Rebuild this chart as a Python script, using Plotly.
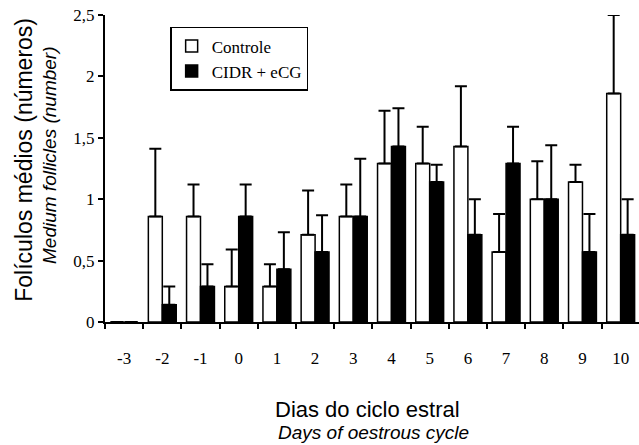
import plotly.graph_objects as go

days = [-3, -2, -1, 0, 1, 2, 3, 4, 5, 6, 7, 8, 9, 10]
controle = [0, 0.86, 0.86, 0.29, 0.29, 0.71, 0.86, 1.29, 1.29, 1.43, 0.57, 1.0, 1.14, 1.86]
controle_se = [0, 0.55, 0.26, 0.30, 0.18, 0.36, 0.26, 0.43, 0.30, 0.49, 0.31, 0.31, 0.14, 0.64]
cidr = [0, 0.14, 0.29, 0.86, 0.43, 0.57, 0.86, 1.43, 1.14, 0.71, 1.29, 1.0, 0.57, 0.71]
cidr_se = [0, 0.15, 0.18, 0.26, 0.30, 0.30, 0.47, 0.31, 0.14, 0.29, 0.30, 0.44, 0.31, 0.29]
y_tickvals = [0, 0.5, 1, 1.5, 2, 2.5]
y_ticktext = ["0", "0,5", "1", "1,5", "2", "2,5"]

serif = "Liberation Serif, Times New Roman, serif"
sans = "Liberation Sans, Arial, sans-serif"

fig = go.Figure()
fig.add_trace(go.Bar(
    x=days, y=controle, name="Controle",
    marker=dict(color="white", line=dict(color="black", width=1.5)),
    error_y=dict(type="data", array=controle_se, arrayminus=[0]*len(days), symmetric=False,
                 color="black", thickness=2, width=6),
))
fig.add_trace(go.Bar(
    x=days, y=cidr, name="CIDR + eCG",
    marker=dict(color="black", line=dict(color="black", width=1.5)),
    error_y=dict(type="data", array=cidr_se, arrayminus=[0]*len(days), symmetric=False,
                 color="black", thickness=2, width=6),
))

fig.update_layout(
    width=639, height=445,
    margin=dict(l=105, r=0, t=15, b=123),
    paper_bgcolor="white", plot_bgcolor="white",
    barmode="group", bargap=0.27, bargroupgap=0,
    showlegend=True,
    legend=dict(
        x=0.122, y=0.961, xanchor="left", yanchor="top",
        bgcolor="white", bordercolor="black", borderwidth=1.5,
        font=dict(family=serif, size=17, color="black"),
        itemwidth=30,
    ),
    xaxis=dict(
        range=[-3.5, 10.48], tickmode="array", tickvals=days,
        ticktext=[str(d) for d in days],
        ticks="outside", ticklen=20, tickcolor="rgba(0,0,0,0)",
        tickfont=dict(family=serif, size=17, color="black"),
        showline=True, linecolor="black", linewidth=2,
        showgrid=False, zeroline=False,
        minor=dict(tick0=-3.5, dtick=1, ticks="outside", ticklen=5,
                   tickwidth=1.5, tickcolor="black", showgrid=False),
    ),
    yaxis=dict(
        range=[0, 2.5], tickmode="array", tickvals=y_tickvals, ticktext=y_ticktext,
        ticks="outside", ticklen=5, tickwidth=1.5, tickcolor="black",
        tickfont=dict(family=serif, size=17, color="black"),
        showline=True, linecolor="black", linewidth=2,
        showgrid=False, zeroline=False,
    ),
)

fig.add_annotation(text="Folículos médios (números)", xref="paper", yref="paper",
                   x=-0.152, y=0.528, textangle=-90, showarrow=False,
                   xanchor="center", yanchor="middle",
                   font=dict(family=sans, size=23, color="black"))
fig.add_annotation(text="<i>Medium follicles (number)</i>", xref="paper", yref="paper",
                   x=-0.103, y=0.544, textangle=-90, showarrow=False,
                   xanchor="center", yanchor="middle",
                   font=dict(family=sans, size=19, color="black"))
fig.add_annotation(text="Dias do ciclo estral", xref="paper", yref="paper",
                   x=0.4925, y=-0.286, showarrow=False,
                   xanchor="center", yanchor="middle",
                   font=dict(family=sans, size=22, color="black"))
fig.add_annotation(text="<i>Days of oestrous cycle</i>", xref="paper", yref="paper",
                   x=0.502, y=-0.36, showarrow=False,
                   xanchor="center", yanchor="middle",
                   font=dict(family=sans, size=19, color="black"))

fig.write_html("out.html", config={"displayModeBar": False},
               post_script="document.body.style.margin='0';document.body.style.padding='0';")
